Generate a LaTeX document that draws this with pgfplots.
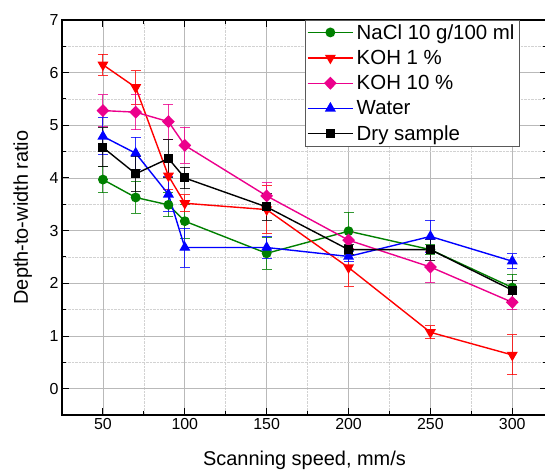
\documentclass[border=0pt]{standalone}
\usepackage{pgfplots}
\pgfplotsset{compat=1.18}
\usepackage{fontspec}
\setmainfont{Liberation Sans}

\definecolor{cgreen}{RGB}{0,128,0}

\begin{document}
\begin{tikzpicture}
  \begin{axis}[
      name=ax,
      scale only axis,
      width=485bp, height=395bp,
      xmin=25, xmax=321.2,
      ymin=-0.5, ymax=7,
      xtick={50,100,...,300},
      ytick={0,1,...,7},
      minor x tick num=1,
      minor y tick num=1,
      tick align=inside,
      major tick length=7bp,
      minor tick length=4bp,
      every tick/.style={black, line width=1bp},
      axis line style={line width=1.5bp},
      grid=both,
      major grid style={gray!55, line width=0.8bp},
      minor grid style={gray!35, densely dotted, line width=0.6bp},
      tick label style={font=\fontsize{16}{19}\selectfont},
      /pgf/number format/assume math mode=true,
      xlabel={Scanning speed, mm/s},
      ylabel={Depth-to-width ratio},
      label style={font=\fontsize{20}{24}\selectfont},
      xlabel style={at={(axis description cs:0.5,-0.114)}, anchor=center},
      ylabel style={at={(axis description cs:-0.081,0.5)}, anchor=center, rotate=0},
      legend cell align=left,
      legend style={at={(rel axis cs:0.944,1)}, anchor=north east,
        font=\fontsize{20.5}{24}\selectfont, draw=gray!70!black, line width=0.6bp,
        fill=white, inner sep=2bp, row sep=5.5bp,
        nodes={inner xsep=3bp, inner ysep=2bp}},
      legend image code/.code={%
        \draw[mark repeat=2, mark phase=2, line width=1.4bp]
          plot coordinates {(0cm,0cm) (0.8cm,0cm) (1.6cm,0cm)};},
      every axis plot/.append style={line width=1.4bp},
      error bars/error bar style={line width=1bp, opacity=0.8},
      error bars/error mark options={rotate=90, mark size=5bp, line width=1bp},
    ]
    % NaCl 10 g/100 ml
    \addplot[cgreen, mark=*, mark size=4.2bp,
      error bars/.cd, y dir=both, y explicit]
      coordinates {(50,3.97) +- (0,0.25) (70,3.63) +- (0,0.30) (90,3.49) +- (0,0.23)
        (100,3.18) +- (0,0.32) (150,2.57) +- (0,0.30) (200,2.99) +- (0,0.36)
        (250,2.64) +- (0,0.10) (300,1.92) +- (0,0.25)};
    \addlegendentry{NaCl 10 g/100 ml}
    % KOH 1 %
    \addplot[red, mark=triangle*, mark size=5bp, mark options={rotate=180},
      error bars/.cd, y dir=both, y explicit]
      coordinates {(50,6.15) +- (0,0.20) (70,5.72) +- (0,0.32) (90,4.04) +- (0,0.25)
        (100,3.52) +- (0,0.16) (150,3.40) +- (0,0.45) (200,2.30) +- (0,0.36)
        (250,1.07) +- (0,0.12) (300,0.64) +- (0,0.38)};
    \addlegendentry{KOH 1 \%}
    % KOH 10 %
    \addplot[magenta, mark=diamond*, mark size=5.5bp, mark options={scale=1, xscale=1.3},
      error bars/.cd, y dir=both, y explicit]
      coordinates {(50,5.28) +- (0,0.30) (70,5.25) +- (0,0.33) (90,5.07) +- (0,0.33)
        (100,4.62) +- (0,0.34) (150,3.66) +- (0,0.25) (200,2.82) +- (0,0.15)
        (250,2.31) +- (0,0.30) (300,1.64) +- (0,0.14)};
    \addlegendentry{KOH 10 \%}
    % Water
    \addplot[blue, mark=triangle*, mark size=5bp,
      error bars/.cd, y dir=both, y explicit]
      coordinates {(50,4.79) +- (0,0.35) (70,4.47) +- (0,0.30) (90,3.69) +- (0,0.33)
        (100,2.68) +- (0,0.37) (150,2.68) +- (0,0.20) (200,2.51) +- (0,0.10)
        (250,2.89) +- (0,0.31) (300,2.42) +- (0,0.14)};
    \addlegendentry{Water}
    % Dry sample
    \addplot[black, mark=square*, mark size=3.8bp,
      error bars/.cd, y dir=both, y explicit]
      coordinates {(50,4.58) +- (0,0.37) (70,4.08) +- (0,0.33) (90,4.37) +- (0,0.36)
        (100,4.00) +- (0,0.20) (150,3.45) +- (0,0.25) (200,2.64) +- (0,0.10)
        (250,2.64) +- (0,0.20) (300,1.87) +- (0,0.19)};
    \addlegendentry{Dry sample}
  \end{axis}
  \pgfresetboundingbox
  \path[use as bounding box] ([xshift=-62bp,yshift=-59bp]ax.south west)
    rectangle ([xshift=-2bp,yshift=20bp]ax.north east);
\end{tikzpicture}
\end{document}
